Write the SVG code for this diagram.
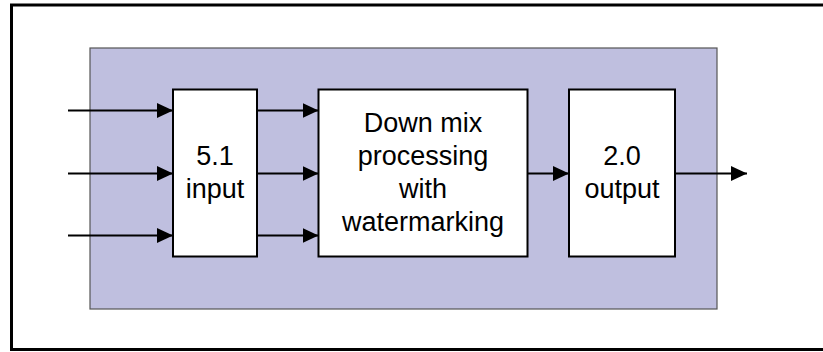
<svg xmlns="http://www.w3.org/2000/svg" width="823" height="352" viewBox="0 0 823 352">
<style>
.box{fill:#fff;stroke:#000;stroke-width:2}
.lbl{font-family:"Liberation Sans",Arial,sans-serif;font-size:27px;fill:#000;text-anchor:middle}
.con{stroke:#000;stroke-width:2;fill:none;marker-end:url(#ah)}
</style>
<defs>
<marker id="ah" markerUnits="userSpaceOnUse" markerWidth="16" markerHeight="15" refX="16" refY="7.5" orient="auto">
<path d="M0,0 L16,7.5 L0,15 z" fill="#000"/>
</marker>
</defs>
<rect x="0" y="0" width="823" height="352" fill="#fff"/>
<rect id="frame" x="11.5" y="5" width="820" height="344.5" fill="none" stroke="#000" stroke-width="3"/>
<rect id="system" x="90" y="48" width="627" height="261" fill="#BFBFDF" stroke="#555" stroke-width="1.2"/>
<g id="input">
<rect class="box" x="173" y="89.5" width="84" height="167"/>
<text class="lbl" x="215" y="165">5.1</text>
<text class="lbl" x="215" y="198">input</text>
</g>
<g id="downmix">
<rect class="box" x="318.5" y="89.5" width="209" height="167"/>
<text class="lbl" x="423" y="132">Down mix</text>
<text class="lbl" x="423" y="165">processing</text>
<text class="lbl" x="423" y="198">with</text>
<text class="lbl" x="423" y="231">watermarking</text>
</g>
<g id="output">
<rect class="box" x="569" y="89.5" width="106" height="167"/>
<text class="lbl" x="622" y="165">2.0</text>
<text class="lbl" x="622" y="198">output</text>
</g>
<g id="connectors">
<path class="con" d="M68,110.5 H173"/>
<path class="con" d="M68,173.5 H173"/>
<path class="con" d="M68,235.5 H173"/>
<path class="con" d="M257,110.5 H318.5"/>
<path class="con" d="M257,173.5 H318.5"/>
<path class="con" d="M257,235.5 H318.5"/>
<path class="con" d="M527.5,173.5 H569"/>
<path class="con" d="M675,173.5 H747"/>
</g>
</svg>
